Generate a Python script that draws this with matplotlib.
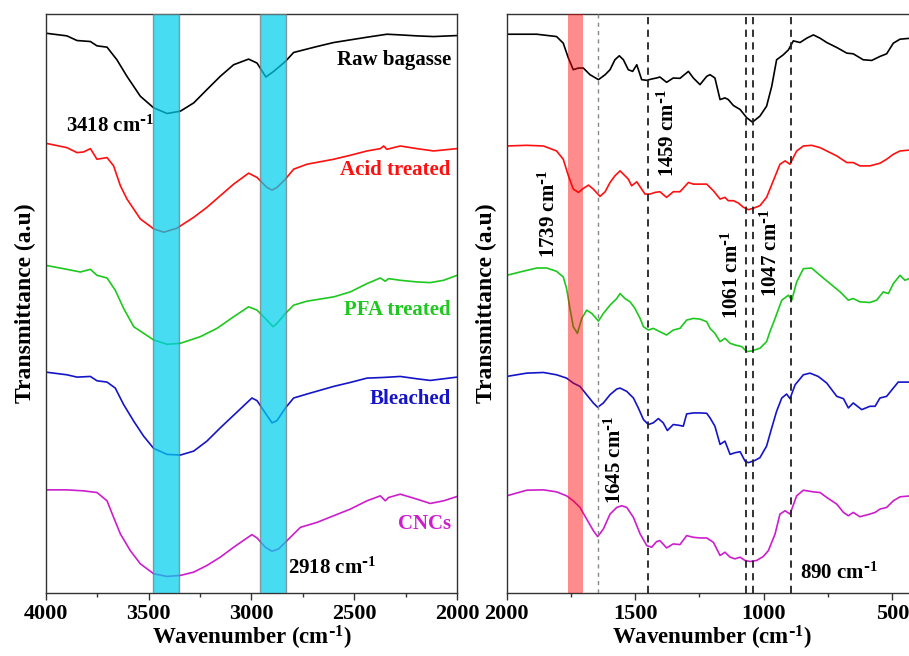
import numpy as np
import matplotlib
matplotlib.use('Agg')
import matplotlib.pyplot as plt
from matplotlib.ticker import MultipleLocator

# spectra: [wavenumber (cm-1), transmittance (a.u., stacked)]
raw_left = np.array([[4000,1688],[3898,1680],[3849,1666],[3784,1663],[3752,1650],[3703,1646],[3655,1608],[3606,1558],
    [3541,1498],[3476,1463],[3411,1446],[3346,1453],[3281,1478],[3217,1518],[3152,1558],[3087,1593],[3014,1610],
    [2973,1598],[2930,1556],[2892,1573],[2835,1603],[2795,1630],[2681,1648],[2600,1660],[2519,1668],[2438,1676],
    [2341,1685],[2276,1683],[2195,1680],[2114,1678],[2000,1681]])
acid_left = np.array([[4000,1356],[3898,1343],[3849,1328],[3817,1330],[3784,1340],[3752,1308],[3703,1313],[3671,1288],
    [3638,1228],[3606,1188],[3541,1128],[3476,1098],[3427,1088],[3363,1100],[3281,1133],[3217,1163],[3152,1198],
    [3087,1233],[3014,1266],[2973,1253],[2925,1223],[2900,1215],[2876,1223],[2835,1248],[2795,1278],[2730,1293],
    [2600,1308],[2519,1320],[2438,1333],[2373,1340],[2357,1348],[2341,1338],[2276,1348],[2195,1340],[2114,1333],[2000,1340]])
pfa_left = np.array([[4000,988],[3898,976],[3833,968],[3784,976],[3752,958],[3703,950],[3663,913],[3622,858],[3573,803],
    [3476,763],[3411,750],[3346,753],[3249,773],[3168,798],[3087,833],[3014,863],[2973,853],[2925,823],[2895,803],
    [2876,813],[2835,843],[2795,868],[2730,880],[2600,893],[2519,908],[2438,933],[2373,950],[2349,940],[2333,948],
    [2276,943],[2195,938],[2130,936],[2065,943],[2000,958]])
bleached_left = np.array([[4000,666],[3898,658],[3849,651],[3784,653],[3752,640],[3703,636],[3663,618],[3622,568],
    [3573,518],[3525,473],[3476,436],[3411,418],[3346,416],[3281,428],[3217,458],[3152,498],[3087,536],[2998,588],
    [2973,580],[2933,543],[2900,513],[2876,520],[2835,558],[2795,588],[2730,600],[2600,623],[2519,635],[2438,648],
    [2357,650],[2276,653],[2195,646],[2130,641],[2065,646],[2000,651]])
cncs_left = np.array([[4000,311],[3898,311],[3817,308],[3752,303],[3703,278],[3671,228],[3638,178],[3590,128],[3541,88],
    [3476,58],[3411,50],[3346,53],[3281,63],[3217,83],[3152,108],[3087,138],[2998,176],[2973,166],[2933,138],
    [2900,126],[2868,133],[2827,158],[2762,198],[2681,213],[2600,233],[2519,253],[2438,278],[2373,293],[2349,278],
    [2333,288],[2276,298],[2195,283],[2130,270],[2065,278],[2000,291]])

raw_right = np.array([[2000,1685],[1883,1685],[1806,1678],[1780,1658],[1760,1613],[1741,1578],[1721,1583],[1702,1583],
    [1676,1563],[1643,1548],[1617,1563],[1598,1578],[1579,1608],[1562,1620],[1546,1608],[1527,1578],[1510,1573],
    [1494,1593],[1475,1548],[1455,1546],[1436,1550],[1417,1553],[1404,1556],[1378,1540],[1352,1553],[1326,1552],
    [1293,1573],[1274,1553],[1248,1533],[1222,1558],[1209,1563],[1190,1553],[1170,1488],[1151,1493],[1138,1488],
    [1118,1470],[1092,1458],[1066,1433],[1044,1420],[1015,1438],[989,1468],[969,1528],[950,1608],[924,1623],
    [904,1638],[885,1665],[859,1660],[833,1673],[807,1683],[781,1673],[755,1660],[716,1645],[677,1628],[652,1626],
    [613,1608],[580,1606],[548,1618],[522,1626],[496,1658],[470,1670],[428,1673]])
acid_right = np.array([[2000,1348],[1922,1350],[1857,1348],[1806,1333],[1780,1308],[1760,1258],[1741,1218],[1721,1208],
    [1702,1220],[1682,1230],[1663,1218],[1637,1196],[1617,1210],[1598,1238],[1579,1258],[1559,1273],[1546,1263],
    [1527,1248],[1514,1228],[1494,1240],[1475,1218],[1462,1203],[1442,1203],[1423,1208],[1404,1210],[1378,1193],
    [1352,1210],[1326,1210],[1293,1238],[1274,1233],[1248,1233],[1222,1233],[1196,1213],[1170,1188],[1151,1193],
    [1138,1183],[1118,1183],[1099,1176],[1079,1163],[1060,1156],[1041,1160],[1015,1168],[989,1193],[963,1243],
    [937,1293],[917,1303],[898,1293],[872,1333],[846,1348],[814,1350],[781,1343],[755,1333],[716,1318],[677,1298],
    [652,1298],[626,1288],[587,1288],[548,1296],[522,1308],[496,1323],[470,1333],[428,1336]])
pfa_right = np.array([[2000,958],[1948,968],[1883,980],[1844,980],[1806,970],[1780,953],[1767,918],[1754,858],[1741,803],
    [1725,783],[1708,828],[1689,853],[1669,843],[1643,820],[1624,843],[1598,868],[1572,888],[1559,903],[1540,888],
    [1520,878],[1501,858],[1481,828],[1468,803],[1449,793],[1430,798],[1404,788],[1378,778],[1352,793],[1326,798],
    [1300,823],[1274,828],[1248,826],[1222,818],[1209,798],[1190,783],[1170,758],[1151,768],[1131,753],[1112,748],
    [1086,743],[1066,728],[1047,730],[1015,738],[989,758],[976,788],[956,828],[930,883],[904,898],[891,883],
    [872,938],[846,978],[814,980],[781,958],[742,933],[703,908],[671,883],[652,888],[626,878],[587,876],[561,883],
    [535,908],[515,903],[496,933],[470,958],[451,943],[428,950]])
bleached_right = np.array([[2000,653],[1922,663],[1857,665],[1806,658],[1767,648],[1741,633],[1715,623],[1689,598],
    [1663,573],[1646,560],[1624,573],[1598,598],[1572,615],[1559,618],[1533,608],[1507,588],[1488,558],[1468,523],
    [1449,508],[1430,513],[1410,526],[1391,513],[1375,490],[1352,508],[1332,506],[1313,503],[1300,540],[1274,543],
    [1248,543],[1222,542],[1209,528],[1190,503],[1170,448],[1151,458],[1131,418],[1112,423],[1092,426],[1073,398],
    [1060,393],[1034,400],[1015,408],[989,443],[969,498],[950,548],[930,588],[911,600],[898,586],[878,628],
    [846,658],[820,663],[788,653],[755,633],[716,593],[690,586],[671,558],[652,573],[619,553],[587,563],[567,563],
    [548,588],[522,593],[496,618],[477,636],[428,636]])
cncs_right = np.array([[2000,293],[1922,310],[1857,311],[1806,305],[1767,293],[1741,278],[1715,258],[1689,223],
    [1663,188],[1646,170],[1624,193],[1598,238],[1572,258],[1553,263],[1533,258],[1507,228],[1481,178],[1455,143],
    [1436,138],[1417,155],[1404,158],[1378,136],[1352,148],[1326,146],[1300,173],[1274,168],[1248,166],[1222,166],
    [1196,153],[1170,113],[1151,123],[1131,108],[1112,103],[1092,108],[1073,98],[1053,95],[1028,98],[1002,110],
    [982,128],[956,178],[937,238],[917,248],[898,238],[872,293],[846,310],[807,305],[781,303],[755,288],[716,268],
    [690,243],[671,233],[652,243],[626,230],[587,238],[567,243],[548,253],[522,258],[496,278],[470,290],[428,293]])

names = ['Raw bagasse', 'Acid treated', 'PFA treated', 'Bleached', 'CNCs']
colors = ['#000000', '#FF1010', '#1EC81E', '#1414C8', '#CC1ECC']
name_y = [1608, 1276, 853, 586, 207]

left_sets = [raw_left, acid_left, pfa_left, bleached_left, cncs_left]
right_sets = [raw_right, acid_right, pfa_right, bleached_right, cncs_right]

cyan_bands = [(3481, 3354), (2960, 2832)]
red_band = (1763, 1702)
dash_lines = [1452, 1068, 1042, 893]
thin_dash = 1645

CM = r'cm$^{\text{-}1}$'

### PLOTTING
plt.rcParams['font.family'] = 'Liberation Serif'
plt.rcParams['font.weight'] = 'bold'
plt.rcParams['axes.labelweight'] = 'bold'
plt.rcParams.update({'mathtext.default': 'regular'})

fig = plt.figure(figsize=(9.09, 6.56), dpi=100)
ax1 = fig.add_axes([46/909, 63/656, 411/909, 579/656])
ax2 = fig.add_axes([506.7/909, 63/656, 411.3/909, 579/656])

for ax in (ax1, ax2):
    for s in ax.spines.values():
        s.set_color('#333333')
        s.set_linewidth(1.0)
    ax.set_ylim(0, 1746)
    ax.set_yticks([])
    ax.tick_params(axis='x', which='major', direction='out', length=5, width=1, labelsize=16, pad=3, color='#333333')
    ax.tick_params(axis='x', which='minor', direction='out', length=3, width=1, color='#333333')
    ax.xaxis.set_major_locator(MultipleLocator(500))
    ax.xaxis.set_minor_locator(MultipleLocator(250))
    ax.set_xlabel('Wavenumber (' + CM + ')', fontsize=16.5, labelpad=0)
    ax.set_ylabel('Transmittance (a.u)', fontsize=17, labelpad=7)

ax1.set_xlim(4000, 2000)
ax2.set_xlim(2000, 400)

for d, c in zip(left_sets, colors):
    ax1.plot(d[:, 0], d[:, 1], color=c, lw=1.2, zorder=2)
for d, c in zip(right_sets, colors):
    ax2.plot(d[:, 0], d[:, 1], color=c, lw=1.2, zorder=2)

for a, b in cyan_bands:
    ax1.axvspan(a, b, facecolor=(0.0, 0.81, 0.93), alpha=0.72, edgecolor='#777777', lw=1.0, zorder=3)
ax2.axvspan(red_band[0], red_band[1], facecolor='red', alpha=0.45, lw=0, zorder=3)

for x in dash_lines:
    ax2.axvline(x, color='#222222', lw=1.3, ls=(0, (4, 3)), zorder=4)
ax2.axvline(thin_dash, color='#888888', lw=1.0, ls=(0, (3, 3)), zorder=4)

for n, c, y in zip(names, colors, name_y):
    ax1.text(2030, y, n, color=c, fontsize=15, ha='right', va='center')

ax1.text(3905, 1408, '3418 ' + CM, fontsize=15, ha='left', va='center')
ax1.text(2822, 76, '2918 ' + CM, fontsize=15, ha='left', va='center')

ax2.text(1835, 1143, '1739 ' + CM, fontsize=15, rotation=90, ha='center', va='center')
ax2.text(1370, 1386, '1459 ' + CM, fontsize=15, rotation=90, ha='center', va='center')
ax2.text(1124, 960, '1061 ' + CM, fontsize=15, rotation=90, ha='center', va='center')
ax2.text(972, 1026, '1047 ' + CM, fontsize=15, rotation=90, ha='center', va='center')
ax2.text(1577, 403, '1645 ' + CM, fontsize=15, rotation=90, ha='center', va='center')
ax2.text(858, 61, '890 ' + CM, fontsize=15, ha='left', va='center')

plt.savefig('out.png', dpi=100)
